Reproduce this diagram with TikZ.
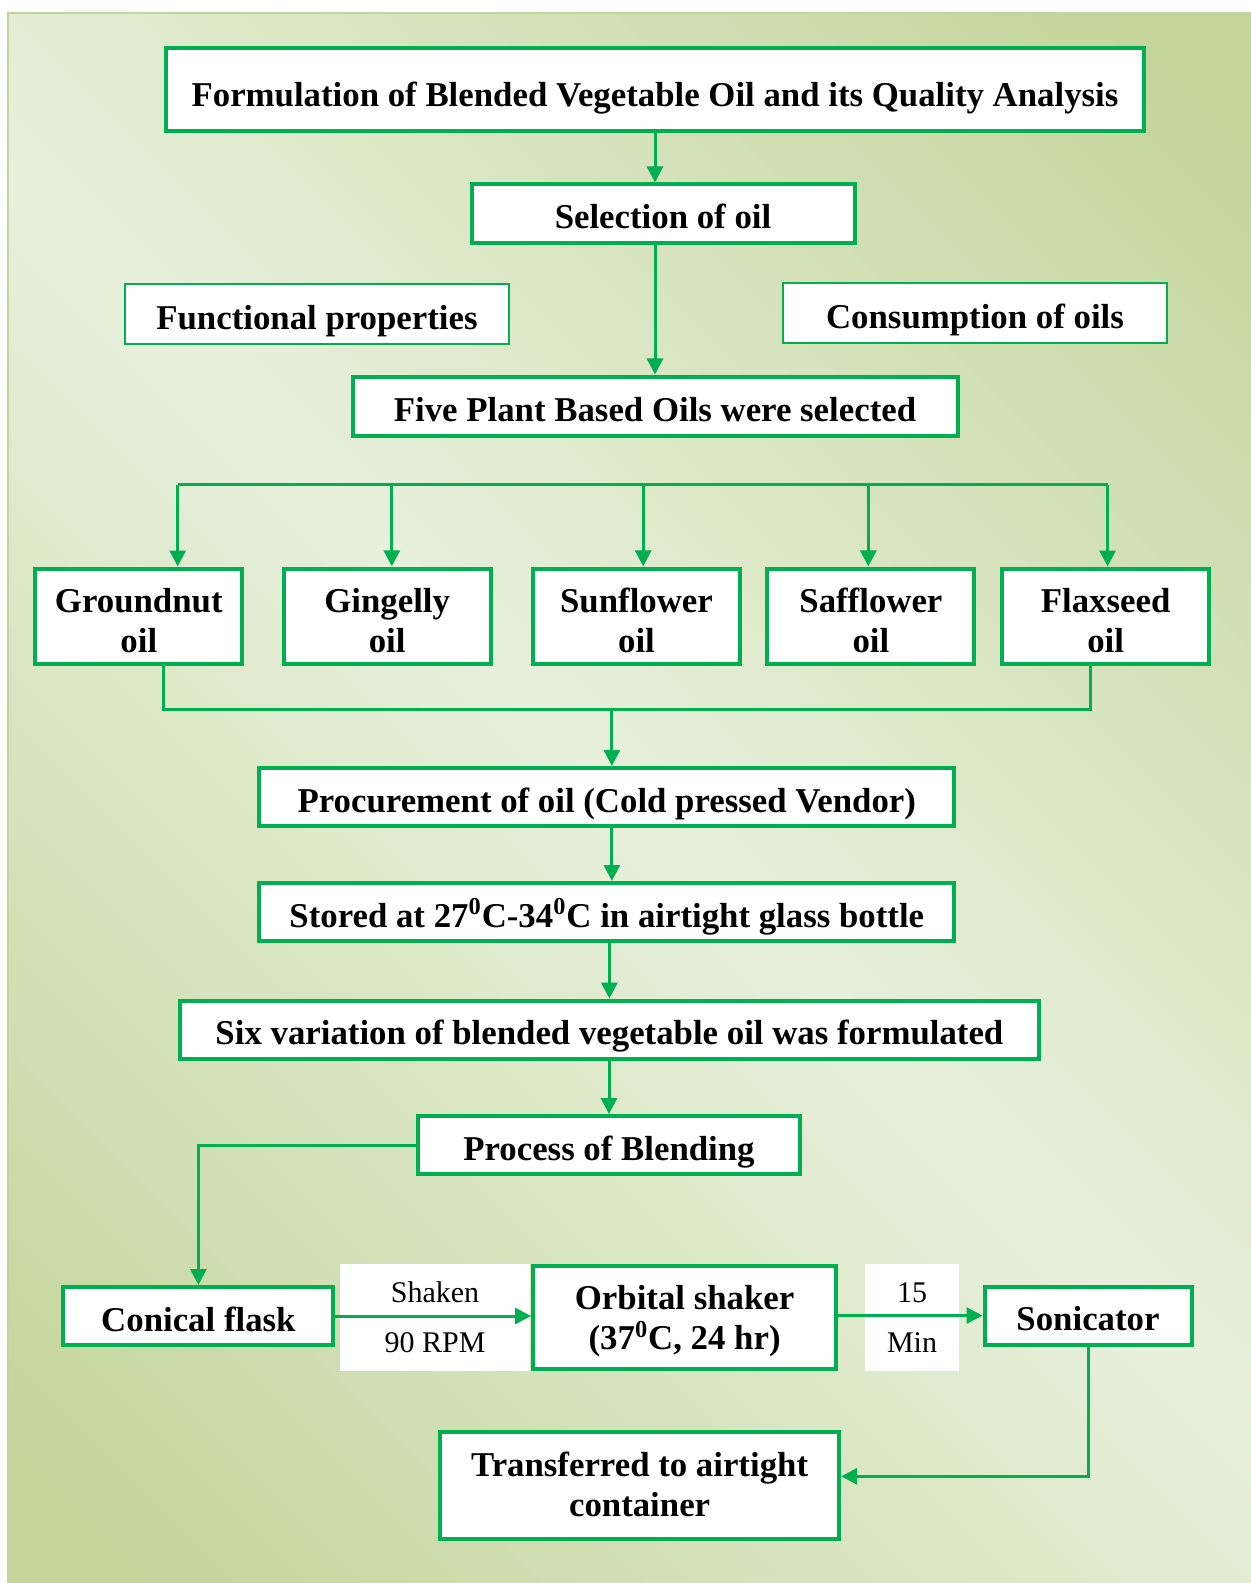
\documentclass[tikz,border=0pt]{standalone}
\usepackage{fontspec}
\setmainfont{Liberation Serif}
\usetikzlibrary{arrows.meta,positioning}

\definecolor{flowgreen}{HTML}{00B050}
\definecolor{bglight}{HTML}{E8F0DC}
\definecolor{bgdark}{HTML}{C3D59B}
\pgfdeclarehorizontalshading{bgshade}{100bp}{color(0bp)=(bgdark); color(18bp)=(bgdark); color(50bp)=(bglight); color(82bp)=(bgdark); color(100bp)=(bgdark)}

\begin{document}
\begin{tikzpicture}[
  x=0.5pt, y=-0.5pt,
  block/.style={
    rectangle,
    draw=flowgreen,
    line width=2pt,
    fill=white,
    inner sep=0pt,
    text height=15pt,
    text depth=0pt,
    text centered,
    font=\bfseries\fontsize{17.4}{20}\selectfont,
    align=center
  },
  twoline/.style={block, text height=36pt, text depth=0pt},
  thinblock/.style={block, line width=1pt},
  steplabel/.style={
    rectangle,
    fill=white,
    inner sep=0pt,
    font=\fontsize{15}{25}\selectfont,
    align=center,
    minimum width=#1,
    minimum height=53.5pt
  },
  link/.style={line width=1.5pt, draw=flowgreen},
  flow/.style={->, link, >={Triangle[length=8pt,width=8pt]}}
]

\useasboundingbox (0,0) rectangle (1251,1583);

% --- BACKGROUND ----------------------------------------------------
\fill[shading=bgshade, shading angle=45] (8,13) rectangle (1251,1583);
\draw[bgdark, line width=1pt] (1251,13) -- (8,13) -- (8,1583);

% --- TITLE & SELECTION ---------------------------------------------
\node[block, text height=17pt, minimum width=489pt, minimum height=41.5pt] (title) at (655,90)
  {Formulation of Blended Vegetable Oil and its Quality Analysis};

\node[block, minimum width=191.5pt, minimum height=29.5pt] (sel) at (663,214)
  {Selection of oil};

\node[thinblock, minimum width=192pt, minimum height=30pt] (func) at (317,314.5)
  {Functional properties};

\node[thinblock, minimum width=192pt, minimum height=30pt] (cons) at (975,313.5)
  {Consumption of oils};

\node[block, minimum width=302.5pt, minimum height=29.5pt] (five) at (655,406)
  {Five Plant Based Oils were selected};

% --- THE FIVE OILS -------------------------------------------------
\node[twoline, minimum width=103.5pt, minimum height=47.5pt] (gnut) at (138.8,616) {Groundnut\\oil};
\node[twoline, minimum width=103.5pt, minimum height=47.5pt] (ging) at (387.2,616) {Gingelly\\oil};
\node[twoline, minimum width=103.5pt, minimum height=47.5pt] (sunf) at (636.5,616) {Sunflower\\oil};
\node[twoline, minimum width=103.5pt, minimum height=47.5pt] (saff) at (870.9,616) {Safflower\\oil};
\node[twoline, minimum width=103.5pt, minimum height=47.5pt] (flax) at (1105.6,616) {Flaxseed\\oil};

% --- PROCUREMENT & STORAGE -----------------------------------------
\node[block, minimum width=347.5pt, minimum height=29pt] (proc) at (606.8,797)
  {Procurement of oil (Cold pressed Vendor)};

\node[block, minimum width=347.5pt, minimum height=29pt] (store) at (606.8,912)
  {Stored at 27\textsuperscript{0}C-34\textsuperscript{0}C in airtight glass bottle};

\node[block, minimum width=429.5pt, minimum height=29pt] (six) at (609.4,1029.5)
  {Six variation of blended vegetable oil was formulated};

\node[block, minimum width=191pt, minimum height=29pt] (blend) at (609,1145)
  {Process of Blending};

% --- BLENDING STEPS ------------------------------------------------
\node[block, minimum width=135pt, minimum height=29pt] (flask) at (198.4,1316)
  {Conical flask};

\node[steplabel=95pt] (shake) at (435,1317.5) {Shaken\\90 RPM};

\node[block, text height={}, text depth=-1.2pt, minimum width=151.5pt, minimum height=51.5pt] (orb) at (684.6,1317.6)
  {Orbital shaker\\(37\textsuperscript{0}C, 24 hr)};

\node[steplabel=47pt] (mins) at (912,1317.5) {15\\Min};

\node[block, minimum width=103.5pt, minimum height=29pt] (soni) at (1088,1315.6)
  {Sonicator};

\node[block, text height={}, text depth=1pt, minimum width=199.5pt, minimum height=53.5pt] (trans) at (639.6,1485.3)
  {Transferred to airtight\\container};

% --- ARROWS --------------------------------------------------------
\draw[flow] (title.south) -- (title.south |- sel.north);
\draw[flow] (sel.south -| five.north) -- (five.north);

\coordinate (brL) at (177.7,484.7);
\coordinate (brR) at (1107.6,484.7);
\draw[link] (brL) -- (brR);
\draw[flow] (brL) -- (brL |- gnut.north);
\draw[flow] (391.8,484.7) -- (391.8,566.4);
\draw[flow] (643.2,484.7) -- (643.2,566.4);
\draw[flow] (868.3,484.7) -- (868.3,566.4);
\draw[flow] (brR) -- (brR |- flax.north);

\coordinate (mgL) at (163.6,709.8);
\coordinate (mgR) at (1090.5,709.8);
\coordinate (mgC) at (611.9,709.8);
\draw[link] (mgL |- gnut.south) -- (mgL) -- (mgR) -- (mgR |- flax.south);
\draw[flow] (mgC) -- (mgC |- proc.north);

\draw[flow] (proc.south -| mgC) -- (mgC |- store.north);
\draw[flow] (six.north |- store.south) -- (six.north);
\draw[flow] (six.south -| blend.north) -- (blend.north);

\draw[flow] (blend.west) -- (flask.north |- blend.west) -- (flask.north);
\draw[flow] (flask.east) -- (flask.east -| orb.west);
\draw[flow] (soni.west -| orb.east) -- (soni.west);
\draw[flow] (soni.south) |- ([yshift=4.5pt]trans.east);

\end{tikzpicture}
\end{document}
